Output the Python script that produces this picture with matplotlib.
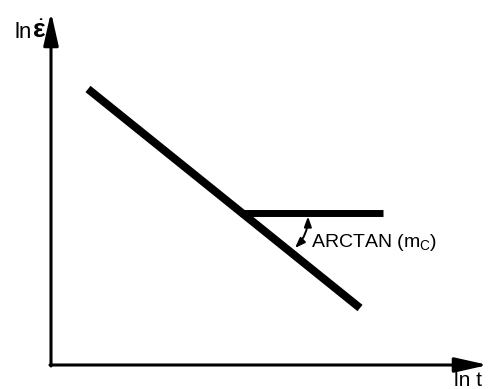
import matplotlib
matplotlib.use("Agg")
import matplotlib.pyplot as plt

plt.rcParams['font.family'] = ['Liberation Sans', 'DejaVu Sans']
plt.rcParams['mathtext.fontset'] = 'custom'
plt.rcParams['mathtext.rm'] = 'Liberation Sans'
plt.rcParams['mathtext.it'] = 'Liberation Sans:italic'
plt.rcParams['mathtext.bf'] = 'Liberation Sans:bold'

# Schematic coordinates (arbitrary units, origin at the axes corner)
ln_t_decay = [37, 309]
ln_rate_decay = [276, 57]
ln_t_plateau = [189, 332]
ln_rate_plateau = [152, 152]
angle_arc_start = (257, 148.5)
angle_arc_end = (244, 117)
x_axis_end = 437
y_axis_end = 353
angle_label = "ARCTAN (m$_\\mathregular{C}$)"

fig = plt.figure(figsize=(4.88, 3.89), dpi=100)
ax = fig.add_axes([0, 0, 1, 1])
ax.set_xlim(-51, 437)
ax.set_ylim(-24, 365)
ax.axis('off')

# Axes with arrowheads
head = '-|>,head_length=2.0,head_width=0.45'
ax.annotate('', xy=(x_axis_end, 0), xytext=(-1.0, 0),
            arrowprops=dict(arrowstyle=head, lw=2.2, color='black',
                            shrinkA=0, shrinkB=0))
ax.annotate('', xy=(0, y_axis_end), xytext=(0, -1.0),
            arrowprops=dict(arrowstyle=head, lw=2.2, color='black',
                            shrinkA=0, shrinkB=0))

# Creep-rate curves
ax.plot(ln_t_decay, ln_rate_decay, color='black', lw=5.8, solid_capstyle='butt')
ax.plot(ln_t_plateau, ln_rate_plateau, color='black', lw=5.0, solid_capstyle='butt')

# Angle indicator
ax.annotate('', xy=angle_arc_start, xytext=angle_arc_end,
            arrowprops=dict(arrowstyle='<|-|>,head_length=0.6,head_width=0.22',
                            lw=1.4, color='black', shrinkA=0, shrinkB=0,
                            connectionstyle='arc3,rad=0.2'))
ax.text(260, 118, angle_label, fontsize=14, ha='left', va='baseline')

# Axis labels
ax.text(-36, 327, "ln", fontsize=16, ha='left', va='baseline')
ax.text(-19, 327, "$\\dot{\\mathbf{\\varepsilon}}$", fontsize=19,
        ha='left', va='baseline')
ax.text(403, -21, "ln t", fontsize=15, ha='left', va='baseline')

fig.savefig("out.png", dpi=100)
